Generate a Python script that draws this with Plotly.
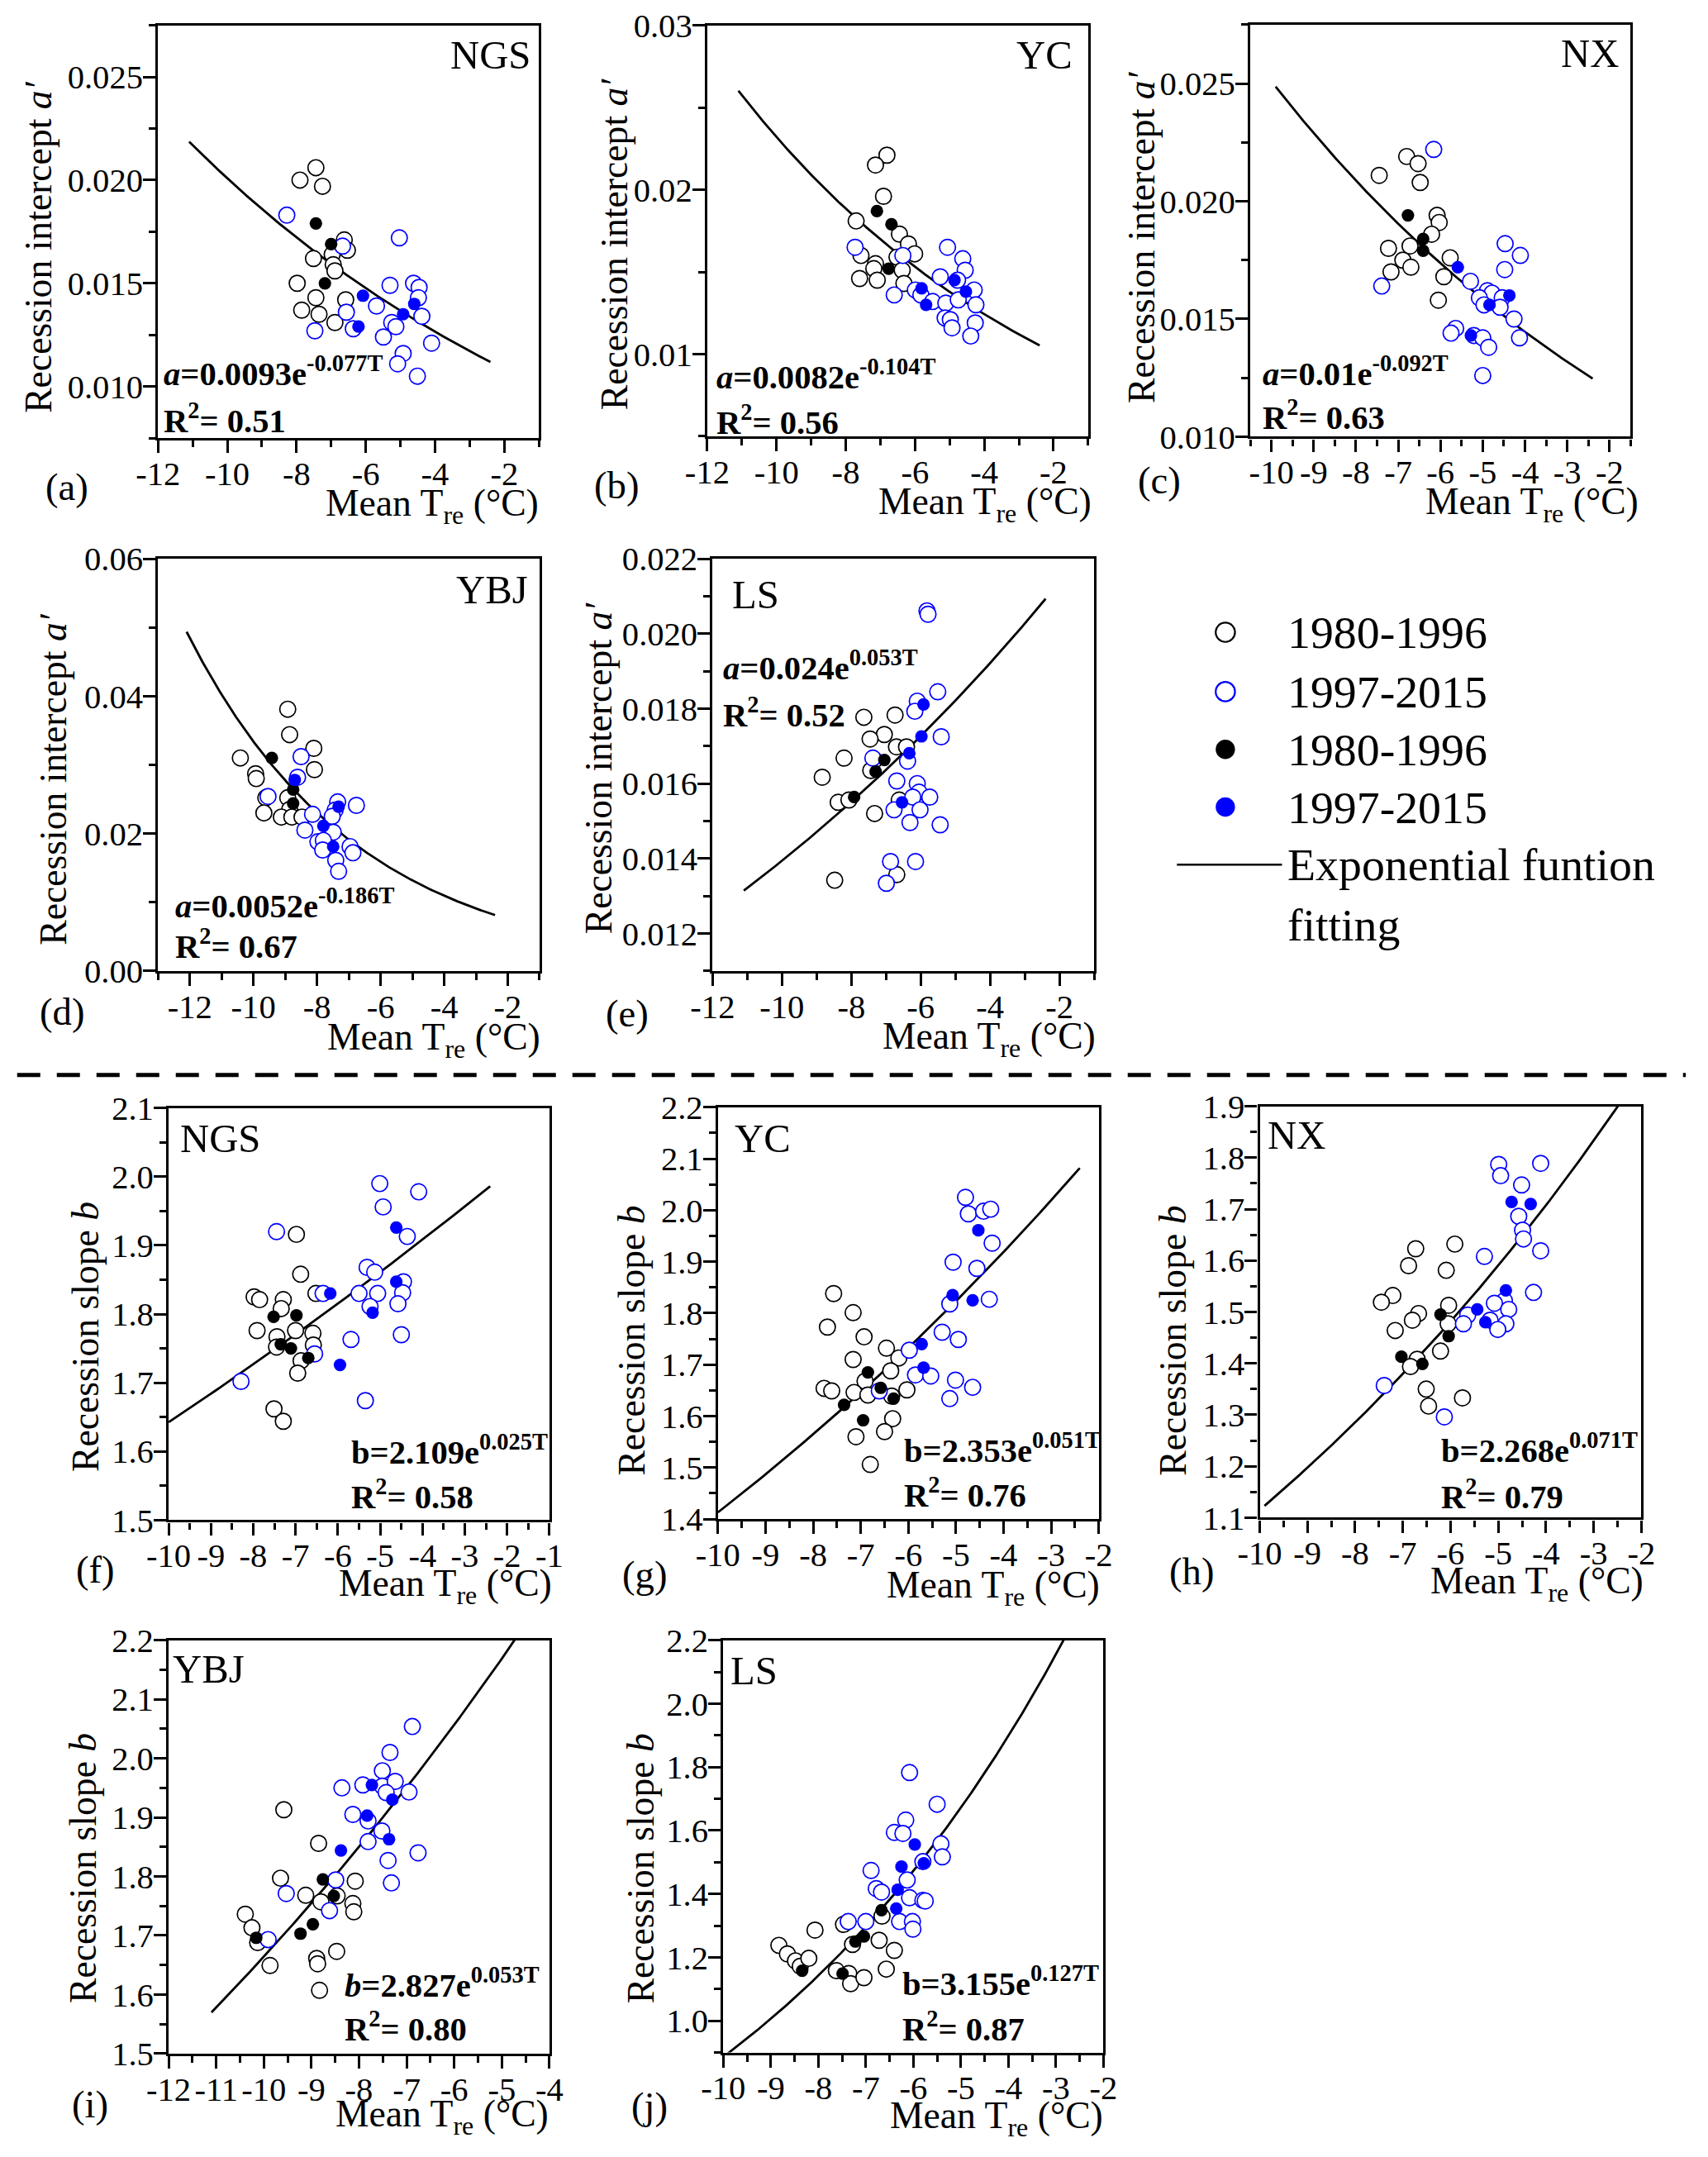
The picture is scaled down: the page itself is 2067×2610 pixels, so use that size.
import numpy as np
import plotly.graph_objects as go

W, H = 2067, 2610
FONT = "Liberation Serif"
BLUE = "#0000FF"

# ---------------- data (T = mean temperature, v = value) ----------------
a_open80_T = [-7.44,-7.90,-7.25,-6.62,-6.53,-6.97,-7.51,-6.94,-6.89,-7.98,-7.44,-6.58,-7.85,-7.35,-6.89]
a_open80_v = [0.0206,0.0200,0.0197,0.0171,0.0166,0.0164,0.0162,0.0159,0.0156,0.0150,0.0143,0.0142,0.0137,0.0135,0.0131]
a_open97_T = [-8.28,-5.03,-6.67,-5.30,-4.62,-4.46,-4.48,-5.69,-6.56,-4.38,-5.25,-5.13,-6.36,-7.47,-5.49,-4.10,-4.92,-5.08,-4.51]
a_open97_v = [0.0183,0.0172,0.0168,0.0149,0.0150,0.0148,0.0143,0.0139,0.0136,0.0134,0.0131,0.0129,0.0128,0.0127,0.0124,0.0121,0.0116,0.0111,0.0105]
a_fill80_T = [-7.44,-7.00,-7.18]
a_fill80_v = [0.0179,0.0169,0.0150]
a_fill97_T = [-6.08,-6.21,-4.92,-4.60]
a_fill97_v = [0.0144,0.0129,0.0135,0.0140]

b_open80_T = [-6.81,-7.14,-6.91,-7.70,-6.45,-6.19,-6.01,-6.52,-7.56,-7.14,-7.19,-6.37,-7.60,-7.09,-6.32]
b_open80_v = [0.0221,0.0215,0.0196,0.0181,0.0173,0.0167,0.0161,0.0159,0.0160,0.0155,0.0152,0.0151,0.0146,0.0145,0.0143]
b_open97_T = [-7.73,-6.35,-5.06,-4.62,-4.55,-5.27,-4.77,-5.99,-4.29,-6.60,-5.83,-5.49,-5.11,-4.75,-4.24,-5.13,-4.98,-4.93,-4.26,-4.39]
b_open97_v = [0.0165,0.0160,0.0165,0.0158,0.0151,0.0147,0.0145,0.0139,0.0139,0.0136,0.0136,0.0132,0.0131,0.0133,0.0130,0.0122,0.0121,0.0116,0.0119,0.0111]
b_fill80_T = [-7.10,-6.68,-6.76]
b_fill80_v = [0.0187,0.0179,0.0152]
b_fill97_T = [-5.81,-5.68,-4.86,-4.53]
b_fill97_v = [0.0140,0.0130,0.0145,0.0138]

c_open80_T = [-6.80,-6.53,-7.45,-6.48,-6.08,-6.03,-6.21,-7.23,-6.72,-6.89,-5.77,-6.70,-7.17,-5.92,-6.05]
c_open80_v = [0.0219,0.0216,0.0211,0.0208,0.0194,0.0191,0.0186,0.0180,0.0181,0.0175,0.0176,0.0172,0.0170,0.0168,0.0158]
c_open97_T = [-6.16,-7.39,-4.47,-4.11,-4.48,-5.29,-4.89,-4.78,-5.08,-4.97,-4.54,-4.59,-4.26,-5.64,-5.75,-5.21,-5.00,-4.13,-4.86,-5.00]
c_open97_v = [0.0222,0.0164,0.0182,0.0177,0.0171,0.0166,0.0162,0.0161,0.0159,0.0156,0.0159,0.0155,0.0150,0.0146,0.0144,0.0143,0.0142,0.0142,0.0138,0.0126]
c_fill80_T = [-6.77,-6.41,-6.41]
c_fill80_v = [0.0194,0.0184,0.0179]
c_fill97_T = [-5.59,-4.37,-4.84,-5.28]
c_fill97_v = [0.0172,0.0160,0.0156,0.0143]

d_open80_T = [-8.92,-8.86,-8.10,-8.08,-10.41,-9.93,-9.91,-9.61,-8.92,-8.86,-9.67,-9.12,-8.79,-8.47]
d_open80_v = [0.0381,0.0344,0.0324,0.0293,0.0310,0.0287,0.0280,0.0252,0.0252,0.0235,0.0230,0.0224,0.0224,0.0224]
d_open97_T = [-8.50,-8.61,-9.54,-8.14,-7.35,-6.76,-7.43,-7.52,-8.38,-7.49,-7.97,-7.80,-7.82,-6.96,-6.87,-7.41,-7.32]
d_open97_v = [0.0312,0.0282,0.0254,0.0228,0.0246,0.0241,0.0234,0.0225,0.0205,0.0202,0.0188,0.0190,0.0176,0.0181,0.0172,0.0161,0.0145]
d_fill80_T = [-9.42,-8.75,-8.75]
d_fill80_v = [0.0310,0.0264,0.0244]
d_fill97_T = [-8.70,-7.80,-7.49,-7.32]
d_fill97_v = [0.0278,0.0211,0.0181,0.0239]

e_open80_T = [-7.64,-6.74,-7.05,-7.46,-6.70,-6.41,-8.21,-7.33,-7.44,-8.84,-8.38,-8.07,-6.62,-7.33,-8.48,-6.69]
e_open80_v = [0.01777,0.01783,0.01731,0.01719,0.01698,0.01698,0.01668,0.01663,0.01635,0.01617,0.01550,0.01556,0.01556,0.01520,0.01342,0.01357]
e_open97_T = [-5.82,-5.79,-5.51,-6.10,-6.17,-5.41,-7.38,-6.38,-6.69,-6.10,-6.05,-6.23,-5.74,-6.77,-6.02,-6.31,-5.44,-6.87,-6.15,-6.99]
e_open97_v = [0.02061,0.02052,0.01845,0.01820,0.01793,0.01725,0.01668,0.01660,0.01607,0.01600,0.01577,0.01564,0.01564,0.01530,0.01530,0.01496,0.01490,0.01392,0.01392,0.01334]
e_fill80_T = [-7.05,-7.30,-7.92]
e_fill80_v = [0.01663,0.01632,0.01564]
e_fill97_T = [-5.92,-5.98,-6.33,-6.54]
e_fill97_v = [0.01811,0.01726,0.01681,0.01550]

f_open80_T = [-6.98,-6.88,-7.98,-7.85,-7.29,-7.34,-6.52,-7.91,-7.00,-6.59,-7.44,-6.58,-7.45,-6.87,-6.95,-7.51,-7.29]
f_open80_v = [1.916,1.858,1.825,1.821,1.821,1.808,1.830,1.776,1.776,1.772,1.767,1.755,1.752,1.732,1.714,1.662,1.644]
f_open97_T = [-7.45,-5.01,-4.93,-4.09,-4.36,-5.31,-5.13,-4.45,-5.50,-5.06,-4.47,-6.35,-5.24,-4.58,-5.69,-4.50,-6.55,-8.29,-5.35]
f_open97_v = [1.920,1.990,1.956,1.978,1.913,1.868,1.861,1.847,1.830,1.830,1.831,1.830,1.811,1.815,1.763,1.770,1.742,1.702,1.674]
f_fill80_T = [-7.52,-6.98,-7.35,-7.11,-6.70]
f_fill80_v = [1.796,1.798,1.756,1.750,1.736]
f_fill97_T = [-6.18,-4.62,-4.62,-5.18,-5.95]
f_fill97_v = [1.830,1.926,1.847,1.802,1.726]

g_open80_T = [-7.57,-7.16,-7.70,-6.93,-6.46,-7.16,-6.20,-6.37,-6.91,-7.77,-7.61,-7.14,-6.85,-6.03,-6.35,-6.33,-7.10,-6.50,-6.80]
g_open80_v = [1.838,1.801,1.773,1.754,1.732,1.710,1.713,1.688,1.668,1.654,1.649,1.646,1.641,1.651,1.639,1.595,1.560,1.570,1.506]
g_open97_T = [-4.80,-4.74,-4.42,-4.27,-4.24,-5.06,-4.56,-5.13,-4.30,-5.29,-4.95,-5.98,-5.85,-5.53,-5.01,-4.65,-6.61,-5.13]
g_open97_v = [2.025,1.993,1.998,2.002,1.936,1.899,1.887,1.818,1.827,1.763,1.749,1.728,1.680,1.678,1.670,1.656,1.649,1.634]
g_fill80_T = [-6.85,-6.58,-6.31,-7.35,-6.95]
g_fill80_v = [1.685,1.655,1.634,1.622,1.592]
g_fill97_T = [-4.53,-5.07,-4.65,-5.72,-5.68]
g_fill97_v = [1.961,1.835,1.825,1.740,1.694]

h_open80_T = [-6.73,-5.91,-6.88,-6.09,-7.21,-7.45,-6.04,-6.67,-6.80,-7.16,-6.05,-6.21,-6.70,-6.84,-6.51,-6.46,-5.75]
h_open80_v = [1.623,1.632,1.590,1.581,1.532,1.519,1.513,1.497,1.484,1.464,1.477,1.424,1.408,1.394,1.350,1.317,1.333]
h_open97_T = [-4.99,-4.11,-4.95,-4.51,-4.57,-4.49,-4.47,-4.11,-5.29,-4.26,-4.87,-5.08,-4.78,-5.64,-5.73,-5.17,-4.84,-5.01,-7.39,-6.13]
h_open97_v = [1.787,1.789,1.765,1.747,1.686,1.659,1.642,1.619,1.608,1.538,1.522,1.517,1.505,1.494,1.477,1.484,1.477,1.466,1.357,1.296]
h_fill80_T = [-7.03,-6.59,-6.21,-6.04]
h_fill80_v = [1.413,1.399,1.495,1.453]
h_fill97_T = [-4.72,-4.32,-4.84,-5.44,-5.27]
h_fill97_v = [1.714,1.710,1.542,1.505,1.480]

i_open80_T = [-9.58,-8.85,-9.65,-8.08,-9.12,-8.46,-8.80,-8.13,-8.11,-10.39,-10.25,-10.13,-9.87,-8.89,-8.87,-8.47,-8.83]
i_open80_v = [1.913,1.856,1.797,1.792,1.768,1.767,1.757,1.754,1.740,1.736,1.713,1.688,1.649,1.661,1.652,1.673,1.607]
i_open97_T = [-6.88,-7.35,-7.51,-7.92,-8.36,-7.51,-7.24,-7.43,-6.95,-8.13,-7.81,-7.52,-7.81,-6.76,-7.39,-7.32,-8.49,-9.53,-8.62,-9.91]
i_open97_v = [2.054,2.010,1.979,1.955,1.950,1.953,1.961,1.942,1.943,1.905,1.894,1.877,1.859,1.840,1.827,1.789,1.794,1.771,1.742,1.693]
i_fill80_T = [-8.76,-8.53,-8.97,-9.23,-10.16]
i_fill80_v = [1.795,1.767,1.719,1.703,1.696]
i_fill97_T = [-7.73,-7.30,-7.83,-7.37,-8.38]
i_fill97_v = [1.955,1.930,1.903,1.863,1.844]

j_open80_T = [-8.83,-8.65,-8.48,-8.38,-8.20,-8.07,-7.47,-6.66,-7.28,-6.72,-6.40,-7.62,-7.36,-7.32,-7.04,-6.57]
j_open80_v = [1.238,1.211,1.189,1.172,1.197,1.286,1.304,1.330,1.241,1.254,1.222,1.158,1.149,1.117,1.136,1.163]
j_open97_T = [-6.08,-5.50,-6.16,-6.40,-6.22,-5.42,-5.39,-5.80,-6.89,-6.13,-6.78,-6.67,-6.08,-5.80,-5.75,-7.37,-7.00,-6.29,-6.02,-6.01]
j_open97_v = [1.783,1.683,1.633,1.594,1.591,1.558,1.517,1.502,1.474,1.444,1.417,1.406,1.388,1.380,1.378,1.313,1.313,1.313,1.313,1.289]
j_fill80_T = [-8.34,-7.49,-7.22,-7.04,-6.67]
j_fill80_v = [1.158,1.149,1.250,1.266,1.349]
j_fill97_T = [-5.97,-6.25,-5.78,-6.33,-6.36]
j_fill97_v = [1.556,1.486,1.497,1.413,1.354]

# fitted exponential functions  y = A * exp(k * T)
stations = ["NGS", "YC", "NX", "YBJ", "LS", "NGS", "YC", "NX", "YBJ", "LS"]
fit_A = [0.0093, 0.0082, 0.01, 0.0052, 0.0238, 2.109, 2.353, 2.268, 2.827, 3.155]
fit_k = [-0.077, -0.104, -0.092, -0.186, 0.0535, 0.025, 0.051, 0.071, 0.053, 0.127]
fit_T0 = [-11.1, -11.1, -9.9, -12.1, -11.1, -10.0, -10.0, -9.9, -11.1, -9.9]
fit_T1 = [-2.4, -2.4, -2.4, -2.4, -2.4, -2.4, -2.4, -2.4, -2.4, -2.4]
eq_text = ["<i>a</i>=0.0093e<sup>-0.077T</sup>", "<i>a</i>=0.0082e<sup>-0.104T</sup>",
           "<i>a</i>=0.01e<sup>-0.092T</sup>", "<i>a</i>=0.0052e<sup>-0.186T</sup>",
           "<i>a</i>=0.024e<sup>0.053T</sup>", "b=2.109e<sup>0.025T</sup>",
           "b=2.353e<sup>0.051T</sup>", "b=2.268e<sup>0.071T</sup>",
           "<i>b</i>=2.827e<sup>0.053T</sup>", "b=3.155e<sup>0.127T</sup>"]
r2_text = ["0.51", "0.56", "0.63", "0.67", "0.52", "0.58", "0.76", "0.79", "0.80", "0.87"]
panel_labels = ["(a)", "(b)", "(c)", "(d)", "(e)", "(f)", "(g)", "(h)", "(i)", "(j)"]
legend_labels = ["1980-1996", "1997-2015", "1980-1996", "1997-2015"]

# tick values / labels
xt_12_2 = [-12, -10, -8, -6, -4, -2]
xt_10_2 = [-10, -9, -8, -7, -6, -5, -4, -3, -2]
xt_10_1 = [-10, -9, -8, -7, -6, -5, -4, -3, -2, -1]
xt_12_4 = [-12, -11, -10, -9, -8, -7, -6, -5, -4]
yt_a = [0.010, 0.015, 0.020, 0.025]; yl_a = ["0.010", "0.015", "0.020", "0.025"]
yt_b = [0.01, 0.02, 0.03]; yl_b = ["0.01", "0.02", "0.03"]
yt_d = [0.00, 0.02, 0.04, 0.06]; yl_d = ["0.00", "0.02", "0.04", "0.06"]
yt_e = [0.012, 0.014, 0.016, 0.018, 0.020, 0.022]; yl_e = ["0.012", "0.014", "0.016", "0.018", "0.020", "0.022"]
yt_f = [1.5, 1.6, 1.7, 1.8, 1.9, 2.0, 2.1]
yt_g = [1.4, 1.5, 1.6, 1.7, 1.8, 1.9, 2.0, 2.1, 2.2]
yt_h = [1.1, 1.2, 1.3, 1.4, 1.5, 1.6, 1.7, 1.8, 1.9]
yt_i = [1.5, 1.6, 1.7, 1.8, 1.9, 2.0, 2.1, 2.2]
yt_j = [1.0, 1.2, 1.4, 1.6, 1.8, 2.0, 2.2]

data = {
    "a": (a_open80_T, a_open80_v, a_open97_T, a_open97_v, a_fill80_T, a_fill80_v, a_fill97_T, a_fill97_v),
    "b": (b_open80_T, b_open80_v, b_open97_T, b_open97_v, b_fill80_T, b_fill80_v, b_fill97_T, b_fill97_v),
    "c": (c_open80_T, c_open80_v, c_open97_T, c_open97_v, c_fill80_T, c_fill80_v, c_fill97_T, c_fill97_v),
    "d": (d_open80_T, d_open80_v, d_open97_T, d_open97_v, d_fill80_T, d_fill80_v, d_fill97_T, d_fill97_v),
    "e": (e_open80_T, e_open80_v, e_open97_T, e_open97_v, e_fill80_T, e_fill80_v, e_fill97_T, e_fill97_v),
    "f": (f_open80_T, f_open80_v, f_open97_T, f_open97_v, f_fill80_T, f_fill80_v, f_fill97_T, f_fill97_v),
    "g": (g_open80_T, g_open80_v, g_open97_T, g_open97_v, g_fill80_T, g_fill80_v, g_fill97_T, g_fill97_v),
    "h": (h_open80_T, h_open80_v, h_open97_T, h_open97_v, h_fill80_T, h_fill80_v, h_fill97_T, h_fill97_v),
    "i": (i_open80_T, i_open80_v, i_open97_T, i_open97_v, i_fill80_T, i_fill80_v, i_fill97_T, i_fill97_v),
    "j": (j_open80_T, j_open80_v, j_open97_T, j_open97_v, j_fill80_T, j_fill80_v, j_fill97_T, j_fill97_v),
}

def fmt_list(vals, nd):
    return [("%." + str(nd) + "f") % v for v in vals]

# ---------------- layout geometry (pixels in the reference picture) ----------------
YA = "Recession intercept <i>a′</i>"
YB = "Recession slope <i>b</i>"
panels = [
    dict(k="a", box=(188.6, 652.7, 28.6, 529.4), xr=[-12, -1], xt=xt_12_2, xm=1, yr=[0.0075, 0.0275], yt=yt_a, yl=yl_a, ym=0.0025,
         name=(644, 65, "right"), eq=(193, 449), r2=(193, 506), lab=(78, 588), xtl=(655, 612), ytl=(43, 298), ytt=YA),
    dict(k="b", box=(857.8, 1321.8, 28.6, 527.3), xr=[-12, -1], xt=xt_12_2, xm=1, yr=[0.005, 0.03], yt=yt_b, yl=yl_b, ym=0.005,
         name=(1304.5, 65, "right"), eq=(866.5, 453), r2=(866.5, 508), lab=(747, 586), xtl=(1328, 610), ytl=(744, 294), ytt=YA),
    dict(k="c", box=(1519.4, 1982.8, 27.8, 527.8), xr=[-10.5, -1.5], xt=xt_10_2, xm=0.5, yr=[0.010, 0.0275], yt=yt_a, yl=yl_a, ym=0.0025,
         name=(1970.7, 63, "right"), eq=(1532, 449), r2=(1532, 502), lab=(1409, 580), xtl=(1994, 610), ytl=(1387, 286), ytt=YA),
    dict(k="d", box=(188.6, 653.5, 675.8, 1175.8), xr=[-13, -1], xt=xt_12_2, xm=1, yr=[0.0, 0.06], yt=yt_d, yl=yl_d, ym=0.01,
         name=(641, 714, "right"), eq=(208, 1094.5), r2=(208, 1143), lab=(71.6, 1225), xtl=(657, 1259), ytl=(60.7, 943), ytt=YA),
    dict(k="e", box=(864.3, 1329.2, 675.8, 1175.8), xr=[-12, -1], xt=xt_12_2, xm=1, yr=[0.011, 0.022], yt=yt_e, yl=yl_e, ym=0.001,
         name=(886, 720, "left"), eq=(875, 806), r2=(875, 863), lab=(760, 1227), xtl=(1332.6, 1258), ytl=(725.5, 930), ytt=YA),
    dict(k="f", box=(201.6, 665.5, 1342.1, 1842.1), xr=[-10, -1], xt=xt_10_1, xm=0.5, yr=[1.5, 2.1], yt=yt_f, yl=fmt_list(yt_f, 1), ym=0.05,
         name=(213.5, 1380, "left"), eq=(421.7, 1756.6), r2=(421.7, 1811), lab=(112, 1902), xtl=(671, 1922), ytl=(101, 1620), ytt=YB),
    dict(k="g", box=(870.8, 1334.8, 1341.2, 1840.8), xr=[-10, -2], xt=xt_10_2, xm=0.5, yr=[1.4, 2.2], yt=yt_g, yl=fmt_list(yt_g, 1), ym=0.05,
         name=(888.6, 1380, "left"), eq=(1095.5, 1754.5), r2=(1095.5, 1809), lab=(781, 1908), xtl=(1338, 1924), ytl=(766, 1624), ytt=YB),
    dict(k="h", box=(1530.9, 1995.8, 1340, 1839.1), xr=[-10, -2], xt=xt_10_2, xm=0.5, yr=[1.1, 1.9], yt=yt_h, yl=fmt_list(yt_h, 1), ym=0.05,
         name=(1538.9, 1375.8, "left"), eq=(1750, 1754.5), r2=(1750, 1811), lab=(1447.8, 1904), xtl=(2001, 1919), ytl=(1425.5, 1624), ytt=YB),
    dict(k="i", box=(201.6, 665.5, 1987.9, 2489.1), xr=[-12, -4], xt=xt_12_4, xm=0.5, yr=[1.5, 2.2], yt=yt_i, yl=fmt_list(yt_i, 1), ym=0.05,
         name=(205, 2023, "left"), eq=(413.7, 2403.7), r2=(413.7, 2457), lab=(105.6, 2551), xtl=(667, 2566), ytl=(96.8, 2264.8), ytt=YB),
    dict(k="j", box=(877.3, 1340.5, 1987.9, 2487.9), xr=[-10, -2], xt=xt_10_2, xm=0.5, yr=[0.9, 2.2], yt=yt_j, yl=fmt_list(yt_j, 1), ym=0.1,
         name=(884.3, 2025.5, "left"), eq=(1093.3, 2401.5), r2=(1093.3, 2457), lab=(787.6, 2553), xtl=(1342.6, 2568), ytl=(776.7, 2264.8), ytt=YB),
]

# the photographed page shows the figure slightly reduced and inset; compensate
SC = 0.9853
OX, OY = 23.3, 20.0
S = 1.0 / SC

def PX(x):
    return ((x - OX) / SC) / W

def PY(y):
    return 1 - ((y - OY) / SC) / H

fig = go.Figure()
annotations = []
shapes = []
layout = {}

TICK_FONT = dict(family=FONT, size=40 * S, color="black")
OPEN_SIZE, FILL_SIZE = 19 * S, 15 * S

for idx, p in enumerate(panels):
    n = idx + 1
    xs = "x" if n == 1 else "x%d" % n
    ys = "y" if n == 1 else "y%d" % n
    xa = "xaxis" if n == 1 else "xaxis%d" % n
    ya = "yaxis" if n == 1 else "yaxis%d" % n
    L, R, T, B = p["box"]
    layout[xa] = dict(domain=[PX(L), PX(R)], anchor=ys, range=p["xr"], showgrid=False, zeroline=False,
                      showline=True, mirror=True, linecolor="black", linewidth=3.2,
                      tickmode="array", tickvals=p["xt"], ticktext=[str(v) for v in p["xt"]],
                      ticks="outside", ticklen=15, tickwidth=3, tickcolor="black", tickfont=TICK_FONT,
                      tickangle=0, ticklabelstandoff=-10,
                      minor=dict(tickmode="linear", tick0=p["xr"][0], dtick=p["xm"], ticks="outside",
                                 ticklen=8, tickwidth=3, tickcolor="black", showgrid=False))
    layout[ya] = dict(domain=[PY(B), PY(T)], anchor=xs, range=p["yr"], showgrid=False, zeroline=False,
                      showline=True, mirror=True, linecolor="black", linewidth=3.2,
                      tickmode="array", tickvals=p["yt"], ticktext=p["yl"],
                      ticks="outside", ticklen=15, tickwidth=3, tickcolor="black", tickfont=TICK_FONT,
                      ticklabelstandoff=-8,
                      minor=dict(tickmode="linear", tick0=p["yr"][0], dtick=p["ym"], ticks="outside",
                                 ticklen=8, tickwidth=3, tickcolor="black", showgrid=False))

    o80T, o80v, o97T, o97v, f80T, f80v, f97T, f97v = data[p["k"]]
    Tc = np.linspace(fit_T0[idx], fit_T1[idx], 300)
    fig.add_trace(go.Scatter(x=Tc, y=fit_A[idx] * np.exp(fit_k[idx] * Tc), mode="lines",
                             line=dict(color="black", width=2.8), xaxis=xs, yaxis=ys, hoverinfo="skip"))
    fig.add_trace(go.Scatter(x=o80T, y=o80v, mode="markers", xaxis=xs, yaxis=ys,
                             marker=dict(symbol="circle", size=OPEN_SIZE, color="white",
                                         line=dict(color="black", width=1.7))))
    fig.add_trace(go.Scatter(x=o97T, y=o97v, mode="markers", xaxis=xs, yaxis=ys,
                             marker=dict(symbol="circle", size=OPEN_SIZE, color="white",
                                         line=dict(color=BLUE, width=1.7))))
    fig.add_trace(go.Scatter(x=f80T, y=f80v, mode="markers", xaxis=xs, yaxis=ys,
                             marker=dict(symbol="circle", size=FILL_SIZE, color="black", line=dict(width=0))))
    fig.add_trace(go.Scatter(x=f97T, y=f97v, mode="markers", xaxis=xs, yaxis=ys,
                             marker=dict(symbol="circle", size=FILL_SIZE, color=BLUE, line=dict(width=0))))

    nx, ny, nanc = p["name"]
    annotations.append(dict(text=stations[idx], x=PX(nx), y=PY(ny), xref="paper", yref="paper",
                            xanchor=nanc, yanchor="middle", showarrow=False,
                            font=dict(family=FONT, size=48 * S, color="black")))
    ex, ey = p["eq"]
    annotations.append(dict(text="<b>" + eq_text[idx] + "</b>", x=PX(ex), y=PY(ey), xref="paper", yref="paper",
                            xanchor="left", yanchor="middle", showarrow=False,
                            font=dict(family=FONT, size=40 * S, color="black")))
    rx, ry = p["r2"]
    annotations.append(dict(text="<b>R<sup>2</sup>= " + r2_text[idx] + "</b>", x=PX(rx), y=PY(ry),
                            xref="paper", yref="paper", xanchor="left", yanchor="middle", showarrow=False,
                            font=dict(family=FONT, size=40 * S, color="black")))
    lx, ly = p["lab"]
    annotations.append(dict(text=panel_labels[idx], x=PX(lx), y=PY(ly), xref="paper", yref="paper",
                            xanchor="center", yanchor="middle", showarrow=False,
                            font=dict(family=FONT, size=46 * S, color="black")))
    tx, ty = p["xtl"]
    annotations.append(dict(text="Mean T<sub>re</sub> (°C)", x=PX(tx), y=PY(ty), xref="paper", yref="paper",
                            xanchor="right", yanchor="middle", showarrow=False,
                            font=dict(family=FONT, size=45 * S, color="black")))
    vx, vy = p["ytl"]
    annotations.append(dict(text=p["ytt"], x=PX(vx), y=PY(vy), xref="paper", yref="paper",
                            xanchor="center", yanchor="middle", textangle=-90, showarrow=False,
                            font=dict(family=FONT, size=45 * S, color="black")))

# ---------------- legend (drawn manually) ----------------
leg_x, leg_text_x = 1489, 1563
leg_rows = [765, 837, 907, 977]
leg_fill = ["white", "white", "black", BLUE]
leg_line = ["black", BLUE, "black", BLUE]
for r, y in enumerate(leg_rows):
    shapes.append(dict(type="circle", xref="paper", yref="paper", xsizemode="pixel", ysizemode="pixel",
                       xanchor=PX(leg_x), yanchor=PY(y), x0=-11.5 * S, x1=11.5 * S, y0=-11.5 * S, y1=11.5 * S,
                       fillcolor=leg_fill[r], line=dict(color=leg_line[r], width=2.2 if r < 2 else 0)))
    annotations.append(dict(text=legend_labels[r], x=PX(leg_text_x), y=PY(y), xref="paper", yref="paper",
                            xanchor="left", yanchor="middle", showarrow=False,
                            font=dict(family=FONT, size=55 * S, color="black")))
shapes.append(dict(type="line", xref="paper", yref="paper", x0=PX(1430), x1=PX(1558), y0=PY(1047), y1=PY(1047),
                   line=dict(color="black", width=2.5)))
annotations.append(dict(text="Exponential funtion", x=PX(leg_text_x), y=PY(1047), xref="paper", yref="paper",
                        xanchor="left", yanchor="middle", showarrow=False,
                        font=dict(family=FONT, size=55 * S, color="black")))
annotations.append(dict(text="fitting", x=PX(leg_text_x), y=PY(1120), xref="paper", yref="paper",
                        xanchor="left", yanchor="middle", showarrow=False,
                        font=dict(family=FONT, size=55 * S, color="black")))

# dashed separator
shapes.append(dict(type="line", xref="paper", yref="paper", x0=PX(17), x1=PX(2050), y0=PY(1302), y1=PY(1302),
                   line=dict(color="black", width=5, dash="28px,20px")))

fig.update_layout(width=W, height=H, margin=dict(l=0, r=0, t=0, b=0), showlegend=False,
                  paper_bgcolor="white", plot_bgcolor="white",
                  annotations=annotations, shapes=shapes, **layout)

post_js = ("document.documentElement.style.margin='0';document.body.style.margin='0';"
           "document.body.style.padding='0';document.body.style.overflow='hidden';"
           "var gd=document.getElementById('{plot_id}');gd.style.position='absolute';"
           "gd.style.left='0px';gd.style.top='0px';")
fig.write_html("out.html", config={"displayModeBar": False}, post_script=post_js)
